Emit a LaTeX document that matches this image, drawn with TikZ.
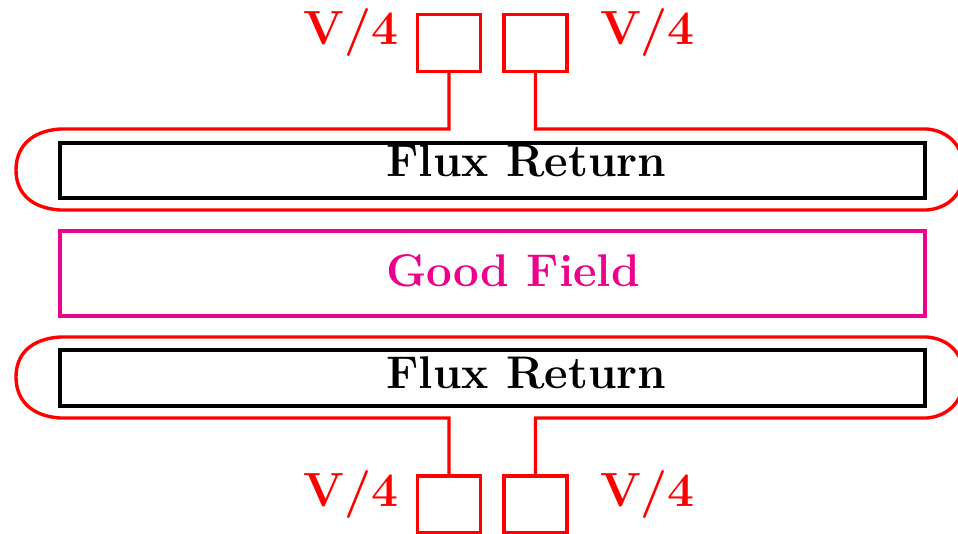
\documentclass[tikz,border=0pt]{standalone}
\definecolor{fieldmag}{RGB}{236,0,140}
\begin{document}
\begin{tikzpicture}[x=0.5pt,y=-0.5pt,
  redline/.style={draw=red, line width=1.7pt},
  psbox/.style={redline, rectangle, inner sep=0pt, minimum width=31.5pt, minimum height=28.5pt},
  fluxbox/.style={draw=black, line width=1.7pt, rectangle, inner sep=0pt, minimum width=432.5pt},
  goodbox/.style={draw=fieldmag, line width=1.6pt, rectangle, inner sep=0pt, minimum width=432.5pt, minimum height=42.5pt},
  txt/.style={font=\fontsize{22.9}{27}\selectfont\bfseries, inner sep=0pt, anchor=base},
  vtxt/.style={font=\fontsize{24}{28}\selectfont\bfseries, text=red, inner sep=0pt, anchor=base}]
\useasboundingbox (0,0) rectangle (958,534);
\clip (0,0) rectangle (958,534);

% power supply boxes
\node[psbox] (tl) at (449,43) {};
\node[psbox] (tr) at (535.5,43) {};
\node[psbox] (bl) at (449,504.5) {};
\node[psbox] (br) at (535.5,504.5) {};

% labels
\node[vtxt] (ltl) at (351,45) {V/4};
\node[vtxt] (ltr) at (647.5,45) {V/4};
\node[vtxt] (lbl) at (351,506) {V/4};
\node[vtxt] (lbr) at (647.5,506) {V/4};

% rectangles
\node[fluxbox, minimum height=27.5pt] (flux1) at (492.5,170.5) {};
\node[goodbox] (good) at (492.5,273.5) {};
\node[fluxbox, minimum height=28pt] (flux2) at (492.5,378) {};

\node[txt] (t1) at (526.5,176.7) {Flux Return};
\node[txt, text=fieldmag] (t2) at (513,286.7) {Good Field};
\node[txt] (t3) at (526.5,388) {Flux Return};

% coil outlines
\draw[redline] (tl.south) |- (60,129)
  .. controls (30,131) and (16,148) .. (16,170)
  .. controls (16,192) and (30,208) .. (60,210)
  -- (927,210)
  .. controls (950,208) and (964,192) .. (964,170)
  .. controls (964,148) and (950,131) .. (927,129)
  -| (tr.south);
\draw[redline] (bl.north) |- (60,418)
  .. controls (30,416) and (16,399) .. (16,377)
  .. controls (16,355) and (30,339) .. (60,337)
  -- (927,337)
  .. controls (950,339) and (964,355) .. (964,377)
  .. controls (964,399) and (950,416) .. (927,418)
  -| (br.north);
\end{tikzpicture}
\end{document}
